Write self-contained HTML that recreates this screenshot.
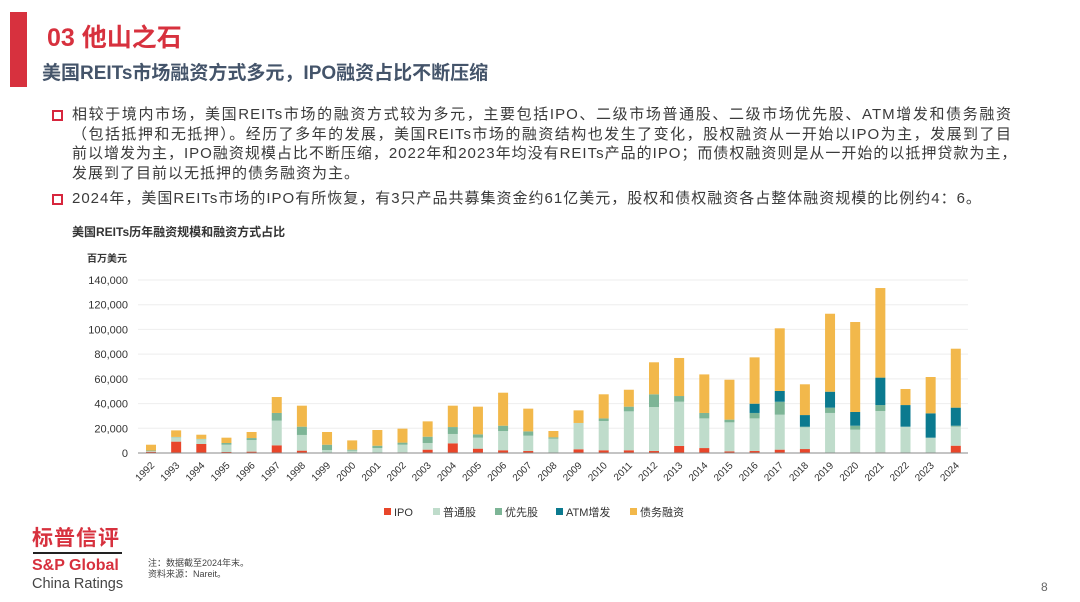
<!DOCTYPE html>
<html><head><meta charset="utf-8">
<style>
body{margin:0;width:1080px;height:602px;background:#fff;position:relative;overflow:hidden;font-family:"Liberation Sans","Noto Sans CJK SC",sans-serif;}
.abs{position:absolute;}
.bl{font-size:15px;color:#3a3a3a;letter-spacing:1px;white-space:nowrap;line-height:19.5px;}
.ln{display:block;text-align:justify;text-align-last:justify;white-space:nowrap;overflow:visible;height:19.5px;}
.sq{position:absolute;width:7px;height:7px;border:2px solid #d7263d;}
</style></head><body>
<div class="abs" style="left:10px;top:12px;width:17px;height:75px;background:#d7313e"></div>
<div class="abs" style="left:47px;top:18px;font-size:25px;font-weight:bold;color:#d7313e;white-space:nowrap">03&nbsp;他山之石</div>
<div class="abs" style="left:42px;top:58px;font-size:19px;font-weight:bold;color:#44546a;white-space:nowrap">美国REITs市场融资方式多元，IPO融资占比不断压缩</div>

<div class="sq" style="left:52px;top:110px"></div>
<div class="abs bl" style="left:72px;top:105px">
<span class="ln" style="width:940px">相较于境内市场，美国REITs市场的融资方式较为多元，主要包括IPO、二级市场普通股、二级市场优先股、ATM增发和债务融资</span>
<span class="ln" style="width:940px">（包括抵押和无抵押）。经历了多年的发展，美国REITs市场的融资结构也发生了变化，股权融资从一开始以IPO为主，发展到了目</span>
<span class="ln" style="width:928px">前以增发为主，IPO融资规模占比不断压缩，2022年和2023年均没有REITs产品的IPO；而债权融资则是从一开始的以抵押贷款为主，</span>
<span style="display:block;height:19.5px">发展到了目前以无抵押的债务融资为主。</span>
</div>
<div class="sq" style="left:52px;top:194px"></div>
<div class="abs bl" style="left:72px;top:189px"><span class="ln" style="width:886px">2024年，美国REITs市场的IPO有所恢复，有3只产品共募集资金约61亿美元，股权和债权融资各占整体融资规模的比例约4：6。</span></div>

<div class="abs" style="left:72px;top:223px;font-size:12px;font-weight:bold;color:#333;white-space:nowrap">美国REITs历年融资规模和融资方式占比</div>
<div class="abs" style="left:87px;top:250px;font-size:10px;font-weight:bold;color:#333">百万美元</div>

<svg id="chart" class="abs" style="left:0;top:0" width="1080" height="602"></svg>

<div class="abs" style="left:32px;top:522px;font-size:21px;font-weight:bold;color:#d7313e;letter-spacing:1px">标普信评</div>
<div class="abs" style="left:33px;top:552px;width:89px;height:2px;background:#222"></div>
<div class="abs" style="left:32px;top:557px;font-size:16px;font-weight:bold;color:#d7313e;white-space:nowrap">S&amp;P Global</div>
<div class="abs" style="left:32px;top:576px;font-size:14.5px;color:#444;white-space:nowrap">China Ratings</div>
<div class="abs" style="left:148px;top:558px;font-size:9px;color:#444;line-height:11px;white-space:nowrap">注：数据截至2024年末。<br>资料来源：Nareit。</div>
<div class="abs" style="left:1041px;top:580px;font-size:12px;color:#666">8</div>

<script>
const years=["1992","1993","1994","1995","1996","1997","1998","1999","2000","2001","2002","2003","2004","2005","2006","2007","2008","2009","2010","2011","2012","2013","2014","2015","2016","2017","2018","2019","2020","2021","2022","2023","2024"];
const ipo=[1.0,9.2,7.3,0.8,1.1,6.2,1.9,0.3,0.2,0.3,0.5,2.7,7.8,3.5,2.2,1.6,0.3,3.0,2.2,2.2,1.6,5.7,4.0,1.3,1.6,2.7,3.2,0.3,0.5,0.5,0,0,5.9];
const common=[0.5,3.5,3.8,5.9,9.4,20.0,12.7,2.1,1.7,3.7,6.2,5.4,7.6,8.9,15.6,12.4,11.3,21.3,23.7,31.5,35.6,35.8,24.0,23.5,26.4,28.3,17.6,32.1,18.4,33.5,21.3,12.4,15.4];
const preferred=[0.5,0.3,0.3,1.4,1.6,6.2,6.7,4.3,0.8,1.9,1.7,5.1,5.6,2.7,4.3,3.5,1.1,0,2.1,3.8,10.3,4.6,4.4,2.2,4.4,10.5,0.5,4.3,3.2,4.8,0,0,0.8];
const atm=[0,0,0,0,0,0,0,0,0,0,0,0,0,0,0,0,0,0,0,0,0,0,0,0,7.5,8.7,9.4,12.9,11.1,22.2,17.5,19.7,14.6];
const debt=[4.7,5.3,3.4,4.3,4.9,12.9,17.0,10.3,7.5,12.7,11.3,12.4,17.3,22.4,26.7,18.4,5.1,10.2,19.5,13.7,25.9,30.8,31.2,32.3,37.5,50.7,24.9,63.1,72.8,72.5,13.0,29.4,47.7];
const yTicks=[0,20000,40000,60000,80000,100000,120000,140000];
const seriesNames=["IPO","普通股","优先股","ATM增发","债务融资"];
const series=[ipo,common,preferred,atm,debt];
const colors=["#e8462a","#bfdccb","#7db596","#0b7a8f","#f2b84b"];
const svg=document.getElementById('chart');
const NS="http://www.w3.org/2000/svg";
const y0=453,pxPerK=173/140;
const yScale=v=>y0-v*pxPerK;
const xScale=i=>151+i*25.15;
function mk(t,a){const e=document.createElementNS(NS,t);for(const k in a)e.setAttribute(k,a[k]);svg.appendChild(e);return e;}
yTicks.forEach(t=>{
  const y=yScale(t/1000);
  if(t>0){const g=mk('line',{x1:138,x2:968,y1:y,y2:y,stroke:'#eeeeee','stroke-width':1});
  
  }
  const l=mk('text',{x:128,y:y+4,'text-anchor':'end','font-size':11,fill:'#333'});
  l.textContent=t.toLocaleString('en-US');
  
  
});
years.forEach((yr,i)=>{
  let base=0;const cx=xScale(i);
  series.forEach((s,k)=>{
    const v=s[i];if(v<=0)return;
    const r=mk('rect',{x:cx-5,y:yScale(base+v),width:10,height:v*pxPerK,fill:colors[k]});
    
    
    base+=v;
  });
  const tl=mk('text',{x:cx+4,y:466,'text-anchor':'end','font-size':10,fill:'#333',transform:`rotate(-45 ${cx+4} 466)`});
  tl.textContent=yr;
  
  
});
const ax=mk('line',{x1:138,x2:968,y1:y0,y2:y0,stroke:'#888','stroke-width':1});


const legX=[384,433,495,556,630];
seriesNames.forEach((n,k)=>{
  const r=mk('rect',{x:legX[k],y:508,width:7,height:7,fill:colors[k]});
  
  
  const t=mk('text',{x:legX[k]+10,y:516,'font-size':11,fill:'#333'});
  t.textContent=n;
  
  
});
</script>
</body></html>
